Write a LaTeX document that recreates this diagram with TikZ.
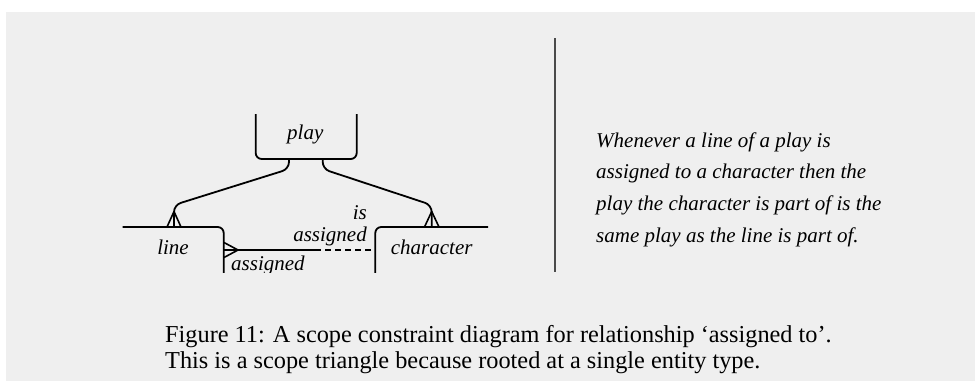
\documentclass[tikz,border=0pt]{standalone}
\usepackage{fontspec}
\setmainfont{Liberation Serif}
\definecolor{panel}{HTML}{EFEFEF}
\definecolor{rule}{HTML}{4A4A4A}
\begin{document}
\begin{tikzpicture}[x=1pt,y=-1pt,
  ent/.style={line width=1.8pt, rounded corners=6pt},
  conn/.style={line width=1.8pt, rounded corners=7pt},
  foot/.style={line width=1.6pt},
  lbl/.style={font=\fontsize{21}{24}\selectfont\itshape, inner sep=0pt, anchor=base},
  note/.style={font=\fontsize{21}{24}\selectfont\itshape, inner sep=0pt, anchor=base west},
  captxt/.style={font=\fontsize{24.3}{27}\selectfont, inner sep=0pt, anchor=base west}]
\useasboundingbox (0,0) rectangle (975,381);
\fill[panel] (6,12) rectangle (975,381);

\begin{scope}
\clip (0,0) rectangle (975,272.5);
% entity boxes (open frames)
\draw[ent] (255.7,114) -- (255.7,159) -- (356.7,159) -- (356.7,114);
\draw[ent] (122.7,227) -- (223.7,227) -- (223.7,290);
\draw[ent] (375.3,290) -- (375.3,227) -- (488,227);

% labels
\node[lbl] (play) at (305.3,139.5) {play};
\node[lbl] (line) at (173,254.5) {line};
\node[lbl] (char) at (431.7,254.5) {character};
\node[lbl, anchor=base east] (is) at (367,219) {is};
\node[lbl, anchor=base east] (asg1) at (367,241.7) {assigned};
\node[lbl, anchor=base west] (asg2) at (231,270.5) {assigned};

% connector endpoints
\coordinate (pL) at (289,159);
\coordinate (pR) at (322.7,159);
\coordinate (lT) at (174,227);
\coordinate (cT) at (431.7,227);
\coordinate (lR) at (223.7,250);
\coordinate (cL) at (375.3,250);
\coordinate (mid) at (315,250);

% play -- line, play -- character
\draw[conn] (pL) -- ++(0,10) -- (174,205) -- (lT);
\draw[conn] (pR) -- ++(0,10) -- (431.7,205) -- (cT);
% crow's feet on the entity tops
\draw[foot] (174,211.5) -- (167,227) (174,211.5) -- (181,227);
\draw[foot] (431.7,211.5) -- (424.5,227) (431.7,211.5) -- (439,227);

% line -- character relationship: solid half, dashed half
\draw[line width=1.8pt] (lR) -- (mid);
\draw[line width=1.8pt, dash pattern=on 6pt off 4pt] (mid) -- (cL);
\draw[foot] (238,250) -- (224,242.5) (238,250) -- (224,257.5);
\end{scope}

% divider
\draw[rule, line width=1.2pt] (555,38) -- (555,272);

% constraint text
\node[note] (t1) at (596,147.3) {Whenever a line of a play is};
\node[note] (t2) at (596,178.5) {assigned to a character then the};
\node[note] (t3) at (596,210) {play the character is part of is the};
\node[note] (t4) at (596,242) {same play as the line is part of.};

% caption
\node[captxt] (c1) at (165,342) {Figure 11: A scope constraint diagram for relationship ‘assigned to’.};
\node[captxt] (c2) at (165,368) {This is a scope triangle because rooted at a single entity type.};
\end{tikzpicture}
\end{document}
